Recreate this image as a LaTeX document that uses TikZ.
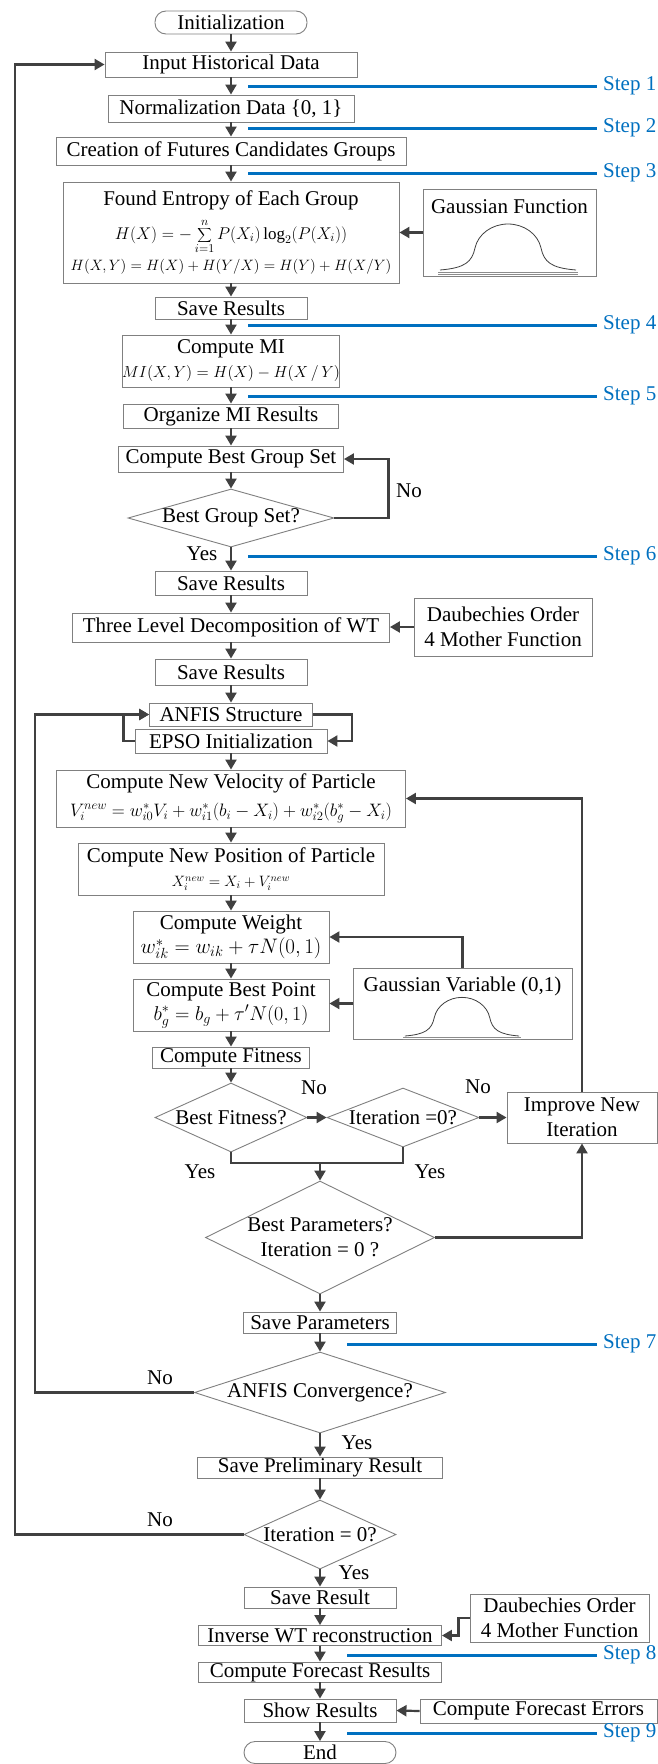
\documentclass[tikz,border=0pt]{standalone}
\usepackage{fix-cm}
\usepackage{fontspec}
\setmainfont{Liberation Serif}
\usetikzlibrary{arrows.meta,shapes.geometric,calc}
\definecolor{lineg}{HTML}{404040}
\definecolor{boxg}{HTML}{808080}
\definecolor{stepblue}{RGB}{0,112,192}
\newcommand{\fsz}[1]{\fontsize{#1}{#1}\selectfont}
\tikzset{
  bell/.pic={
    \draw[black!75, line width=0.8pt] (-68,0) .. controls (-43,-2) and (-36,-8) .. (-33,-22)
      .. controls (-30,-36) and (-16,-46) .. (0,-46)
      .. controls (16,-46) and (30,-36) .. (33,-22)
      .. controls (36,-8) and (43,-2) .. (68,0);
    \draw[black!45, line width=0.45pt] (-70,2) -- (70,2) (-70,4) -- (70,4);
  }
}
\begin{document}
\begin{tikzpicture}[x=1pt,y=-1pt,
  every node/.style={font=\fontsize{21}{25}\selectfont, inner sep=0pt},
  box/.style={draw=boxg, line width=0.9pt, fill=white, align=center},
  term/.style={box, rounded corners=11pt},
  dia/.style={draw=boxg, line width=0.9pt, diamond, fill=white},
  conn/.style={draw=lineg, line width=2.2pt, -{Triangle[length=10pt,width=11pt]}},
  plain/.style={draw=lineg, line width=2.2pt},
  stepline/.style={draw=stepblue, line width=3pt},
  steplbl/.style={text=stepblue, anchor=west}
]
\fill[white] (0,0) rectangle (658,1764);
\useasboundingbox (0,0) rectangle (658,1764);

% ---------- upper column ----------
\node[term, minimum width=152pt, minimum height=23pt] (init) at (231,22.5) {Initialization};
\node[box, minimum width=252pt, minimum height=25pt] (input) at (231,64.5) {Input Historical Data};
\node[box, minimum width=246pt, minimum height=27pt] (norm) at (231,108.5) {Normalization Data \{0, 1\}};
\node[box, minimum width=350pt, minimum height=28pt] (create) at (231,151) {Creation of Futures Candidates Groups};
\node[box, minimum width=336pt, minimum height=101pt] (entropy) at (231,232.5)
  {Found Entropy of Each Group\\[9pt]
   {\fsz{17}$H(X) = -\displaystyle\sum_{i=1}^{n} P(X_i)\log_2\bigl(P(X_i)\bigr)$}\\[5pt]
   {\fsz{15}$H(X,Y) = H(X) + H(Y/X) = H(Y) + H(X/Y)$}};
\node[box, minimum width=173pt, minimum height=87pt,
      label={[anchor=north, yshift=-10.5pt]north:Gaussian Function}] (gauss1) at (509.5,232.5) {};
\pic at (508,270) {bell};
\node[box, minimum width=152pt, minimum height=22pt] (save1) at (231,308) {Save Results};
\node[box, minimum width=217pt, minimum height=52pt] (mi) at (231,361)
  {Compute MI\\[-1pt]{\fsz{16}$MI(X,Y) = H(X) - H(X\,/\,Y)$}};
\node[box, minimum width=215pt, minimum height=24pt] (org) at (231,416) {Organize MI Results};
\node[box, minimum width=225pt, minimum height=26pt] (bestgrp) at (231,459) {Compute Best Group Set};
\node[dia, minimum width=206pt, minimum height=58pt, label=center:{Best Group Set?}] (dgrp) at (231,518) {};
\node[box, minimum width=152pt, minimum height=24pt] (save2) at (231,583) {Save Results};
\node[box, minimum width=317pt, minimum height=29pt] (three) at (231,627.5) {Three Level Decomposition of WT};
\node[box, minimum width=178pt, minimum height=58pt] (daub1) at (503,627) {Daubechies Order\\4 Mother Function};
\node[box, minimum width=152pt, minimum height=26pt] (save3) at (231,672) {Save Results};
\node[box, minimum width=163pt, minimum height=23pt] (anfis) at (231,714.5) {ANFIS Structure};
\node[box, minimum width=192pt, minimum height=24pt] (epso) at (231,741) {EPSO Initialization};
\node[box, minimum width=349pt, minimum height=57pt] (vel) at (231,798.5)
  {Compute New Velocity of Particle\\[3pt]
   {\fsz{18}$V_i^{new} = w_{i0}^{*}V_i + w_{i1}^{*}(b_i - X_i) + w_{i2}^{*}\bigl(b_g^{*} - X_i\bigr)$}};
\node[box, minimum width=306pt, minimum height=52pt] (pos) at (231,869)
  {Compute New Position of Particle\\[-1pt]{\fsz{15}$X_i^{new} = X_i + V_i^{new}$}};
\node[box, minimum width=196pt, minimum height=52pt] (weight) at (231,937)
  {Compute Weight\\[-1pt]{\fsz{21}$w_{ik}^{*} = w_{ik} + \tau N(0,1)$}};
\node[box, minimum width=196pt, minimum height=52pt] (bestpt) at (231,1005)
  {Compute Best Point\\[-1pt]{\fsz{20}$b_g^{*} = b_g + \tau' N(0,1)$}};
\node[box, minimum width=219pt, minimum height=71pt,
      label={[anchor=north, yshift=-9.5pt]north:Gaussian Variable (0,1)}] (gauss2) at (462.5,1003.5) {};
\pic[scale=0.84] at (462,1036) {bell};
\node[box, minimum width=157pt, minimum height=21pt] (fit) at (231,1057.5) {Compute Fitness};
\node[dia, minimum width=152pt, minimum height=69pt, label=center:{Best Fitness?}] (dfit) at (231,1117.5) {};
\node[dia, minimum width=152pt, minimum height=59pt, label=center:{Iteration =0?}] (diter) at (403,1117.5) {};
\node[box, minimum width=150pt, minimum height=51pt] (improve) at (582,1117.5) {Improve New\\Iteration};

% ---------- lower column ----------
\node[dia, minimum width=229pt, minimum height=113pt,
      label={[align=center]center:Best Parameters?\\Iteration = 0 ?}] (dparam) at (320,1237.5) {};
\node[box, minimum width=153pt, minimum height=21pt] (savepar) at (320,1322.5) {Save Parameters};
\node[dia, minimum width=251pt, minimum height=81pt, label=center:{ANFIS Convergence?}] (dconv) at (320,1392.5) {};
\node[box, minimum width=245pt, minimum height=21pt] (prelim) at (320,1467.5) {Save Preliminary Result};
\node[dia, minimum width=152pt, minimum height=69pt, label=center:{Iteration = 0?}] (diter2) at (320,1534.5) {};
\node[box, minimum width=152pt, minimum height=21pt] (saveres) at (320,1597.5) {Save Result};
\node[box, minimum width=243pt, minimum height=20pt] (inverse) at (320,1635.5) {Inverse WT reconstruction};
\node[box, minimum width=179pt, minimum height=48pt] (daub2) at (559.5,1618) {Daubechies Order\\4 Mother Function};
\node[box, minimum width=243pt, minimum height=20pt] (forecast) at (320,1672) {Compute Forecast Results};
\node[box, minimum width=152pt, minimum height=23pt] (show) at (320,1710.5) {Show Results};
\node[box, minimum width=237pt, minimum height=24pt] (errors) at (538.5,1711) {Compute Forecast Errors};
\node[term, minimum width=152pt, minimum height=22pt] (end) at (320,1752.5) {End};

% ---------- main flow ----------
\draw[conn] (init) -- (input);
\draw[conn] (input) -- (norm);
\draw[conn] (norm) -- (create);
\draw[conn] (create) -- (entropy);
\draw[conn] (entropy) -- (save1);
\draw[conn] (save1) -- (mi);
\draw[conn] (mi) -- (org);
\draw[conn] (org) -- (bestgrp);
\draw[conn] (bestgrp) -- (dgrp);
\draw[conn] (dgrp) -- (save2);
\draw[conn] (save2) -- (three);
\draw[conn] (three) -- (save3);
\draw[conn] (save3) -- (anfis);
\draw[conn] (epso) -- (vel);
\draw[conn] (vel) -- (pos);
\draw[conn] (pos) -- (weight);
\draw[conn] (weight) -- (bestpt);
\draw[conn] (bestpt) -- (fit);
\draw[conn] (fit) -- (dfit);
\draw[conn] (dfit) -- (diter);
\draw[conn] (diter) -- (improve);
\coordinate (join) at (320,1163);
\draw[plain] (dfit.south) -- (dfit.south |- join) -- (diter.south |- join) -- (diter.south);
\draw[conn] (join) -- (dparam.north);
\draw[conn] (dparam) -- (savepar);
\draw[conn] (savepar) -- (dconv);
\draw[conn] (dconv) -- (prelim);
\draw[conn] (prelim) -- (diter2);
\draw[conn] (diter2) -- (saveres);
\draw[conn] (saveres) -- (inverse);
\draw[conn] (inverse) -- (forecast);
\draw[conn] (forecast) -- (show);
\draw[conn] (show) -- (end);

% ---------- side inputs and loops ----------
\draw[conn] (gauss1.west) -- (gauss1.west -| entropy.east);
\draw[conn] (daub1.west) -- (daub1.west -| three.east);
\draw[conn] (dgrp.east) -- ++(54,0) |- (bestgrp.east);
\draw[conn] (anfis.east) -- ++(39,0) |- (epso.east);
\draw[conn] (epso.west) -- ++(-11,0) |- (anfis.west);
\draw[conn] (gauss2.north) |- (weight.east);
\draw[conn] (gauss2.west) -- (gauss2.west -| bestpt.east);
\draw[conn] (improve.north) |- (vel.east);
\draw[conn] (dparam.east) -| (improve.south);
\draw[conn] (dconv.west) -- (35,1392.5) |- (anfis.west);
\draw[conn] (diter2.west) -- (15,1534.5) |- (input.west);
\draw[conn] (daub2.west) -- ++(-11,0) |- (inverse.east);
\draw[conn] (errors.west) -- (show.east);

% ---------- labels ----------
\node (l1) at (409,491) {No};
\node (l2) at (202,554) {Yes};
\node (l3) at (314,1088) {No};
\node (l4) at (478,1087) {No};
\node (l5) at (200,1172) {Yes};
\node (l6) at (430,1172) {Yes};
\node (l7) at (160,1378) {No};
\node (l8) at (357,1443) {Yes};
\node (l9) at (160,1520) {No};
\node (l10) at (354,1573) {Yes};

% ---------- steps ----------
\node[steplbl] (st1) at (603,86) {Step 1};
\node[steplbl] (st2) at (603,128) {Step 2};
\node[steplbl] (st3) at (603,173) {Step 3};
\node[steplbl] (st4) at (603,325) {Step 4};
\node[steplbl] (st5) at (603,396) {Step 5};
\node[steplbl] (st6) at (603,556) {Step 6};
\node[steplbl] (st7) at (603,1344) {Step 7};
\node[steplbl] (st8) at (603,1655) {Step 8};
\node[steplbl] (st9) at (603,1733) {Step 9};
\coordinate (s1) at (248,86);
\coordinate (s2) at (248,128);
\coordinate (s3) at (248,173);
\coordinate (s4) at (248,325);
\coordinate (s5) at (248,396);
\coordinate (s6) at (248,556);
\coordinate (s7) at (347,1344);
\coordinate (s8) at (347,1655);
\coordinate (s9) at (347,1733);
\foreach \i in {1,...,9} { \draw[stepline] (s\i) -- ([xshift=-6pt]st\i.west); }
\end{tikzpicture}
\end{document}
